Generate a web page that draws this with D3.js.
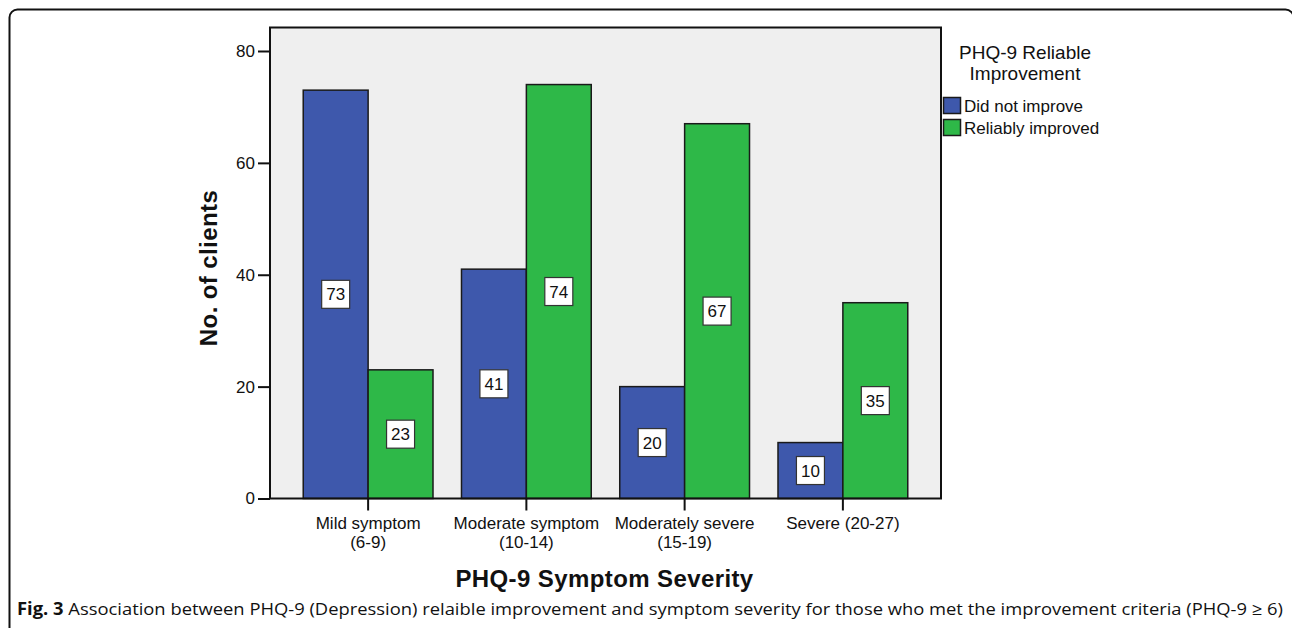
<!DOCTYPE html>
<html>
<head>
<meta charset="utf-8">
<script src="https://cdn.jsdelivr.net/npm/d3@7"></script>
<style>
  body { margin: 0; background: #fff; }
  svg { display: block; }
  text { font-family: Arial, "Liberation Sans", sans-serif; fill: #111; }
</style>
</head>
<body>
<div id="vis"></div>
<script>
// chart data
const categories = ['Mild', 'Moderate', 'ModSevere', 'Severe'];
const categoryLabels = [
  ['Mild symptom', '(6-9)'],
  ['Moderate symptom', '(10-14)'],
  ['Moderately severe', '(15-19)'],
  ['Severe (20-27)']
];
const seriesNames = ['Did not improve', 'Reliably improved'];
const notImproved = [73, 41, 20, 10];
const improved = [23, 74, 67, 35];
const yTicks = [0, 20, 40, 60, 80];
const legendTitle = ['PHQ-9 Reliable', 'Improvement'];
const colors = ['#3E58AC', '#2EB848'];

const width = 1292;
const height = 628;

let svg = d3.select('#vis').append('svg')
  .attr('width', width)
  .attr('height', height);

// outer figure frame (rounded top corners)
svg.append('rect')
  .attr('x', 9.5).attr('y', 9.5)
  .attr('width', 1284).attr('height', 700)
  .attr('rx', 8)
  .attr('fill', 'none')
  .attr('stroke', '#111')
  .attr('stroke-width', 2);

// plot area
let plot = { left: 270, right: 941, top: 27.5, bottom: 498.5 };

let x = d3.scaleBand()
  .domain(categories)
  .range([plot.left, plot.right])
  .paddingInner(0.18)
  .paddingOuter(0.21);

let xSub = d3.scaleBand()
  .domain(seriesNames)
  .range([0, x.bandwidth()]);

let y = d3.scaleLinear()
  .domain([0, 84.2])
  .range([plot.bottom, plot.top]);

svg.append('rect')
  .attr('x', plot.left).attr('y', plot.top)
  .attr('width', plot.right - plot.left)
  .attr('height', plot.bottom - plot.top)
  .attr('fill', '#efefef');

// build rows for the bars
let rows = [];
categories.forEach((c, i) => {
  rows.push({ cat: c, series: seriesNames[0], value: notImproved[i], color: colors[0] });
  rows.push({ cat: c, series: seriesNames[1], value: improved[i], color: colors[1] });
});

svg.selectAll('.bar')
  .data(rows)
  .enter().append('rect')
  .attr('class', 'bar')
  .attr('x', d => x(d.cat) + xSub(d.series))
  .attr('y', d => y(d.value))
  .attr('width', xSub.bandwidth())
  .attr('height', d => y(0) - y(d.value))
  .attr('fill', d => d.color)
  .attr('stroke', '#1a1a1a')
  .attr('stroke-width', 1.5);

// value labels in white boxes
let lab = svg.selectAll('.vlab')
  .data(rows)
  .enter().append('g')
  .attr('class', 'vlab')
  .attr('transform', d => 'translate(' + (x(d.cat) + xSub(d.series) + xSub.bandwidth() / 2) + ',' + ((y(d.value) + y(0)) / 2) + ')');

lab.append('rect')
  .attr('x', -14).attr('y', -14)
  .attr('width', 28).attr('height', 28)
  .attr('fill', '#fff')
  .attr('stroke', '#333')
  .attr('stroke-width', 1.2);

lab.append('text')
  .attr('text-anchor', 'middle')
  .attr('dy', '0.36em')
  .style('font-size', '17px')
  .text(d => d.value);

// plot frame
svg.append('rect')
  .attr('x', plot.left).attr('y', plot.top)
  .attr('width', plot.right - plot.left)
  .attr('height', plot.bottom - plot.top)
  .attr('fill', 'none')
  .attr('stroke', '#111')
  .attr('stroke-width', 2);

// y axis
let yAxis = d3.axisLeft(y)
  .tickValues(yTicks)
  .tickSize(12)
  .tickPadding(3);

let yg = svg.append('g')
  .attr('transform', 'translate(' + plot.left + ',0)')
  .call(yAxis);
yg.select('.domain').remove();
yg.selectAll('line').attr('stroke', '#111').attr('stroke-width', 2);
yg.selectAll('text')
  .style('font-size', '17px')
  .style('font-family', 'Arial, "Liberation Sans", sans-serif')
  .attr('fill', '#111');

// x axis
let xAxis = d3.axisBottom(x)
  .tickSize(12)
  .tickFormat('');

let xg = svg.append('g')
  .attr('transform', 'translate(0,' + plot.bottom + ')')
  .call(xAxis);
xg.select('.domain').remove();
xg.selectAll('line')
  .attr('stroke', '#111').attr('stroke-width', 2);

// category labels (two lines)
xg.selectAll('.tick').each(function (d, i) {
  let t = d3.select(this).append('text')
    .attr('text-anchor', 'middle')
    .attr('y', 30)
    .style('font-size', '17px')
    .style('font-family', 'Arial, "Liberation Sans", sans-serif')
    .attr('fill', '#111');
  categoryLabels[i].forEach((line, j) => {
    t.append('tspan')
      .attr('x', 0)
      .attr('dy', j === 0 ? 0 : 19)
      .text(line);
  });
});

// axis titles
svg.append('text')
  .attr('x', 604.5)
  .attr('y', 587)
  .attr('text-anchor', 'middle')
  .style('font-size', '24px')
  .style('font-weight', 'bold')
  .style('letter-spacing', '0.4px')
  .text('PHQ-9 Symptom Severity');

svg.append('text')
  .attr('transform', 'translate(217,' + 268 + ') rotate(-90)')
  .attr('text-anchor', 'middle')
  .style('font-size', '24px')
  .style('font-weight', 'bold')
  .style('letter-spacing', '0.4px')
  .text('No. of clients');

// legend
let legend = svg.append('g');
legendTitle.forEach((line, i) => {
  legend.append('text')
    .attr('x', 1025)
    .attr('y', 59 + i * 21)
    .attr('text-anchor', 'middle')
    .style('font-size', '19px')
    .text(line);
});

seriesNames.forEach((name, i) => {
  legend.append('rect')
    .attr('x', 943.5).attr('y', 97.5 + i * 22)
    .attr('width', 17).attr('height', 16)
    .attr('fill', colors[i])
    .attr('stroke', '#1a1a1a')
    .attr('stroke-width', 1.5);
  legend.append('text')
    .attr('x', 964)
    .attr('y', 112 + i * 22)
    .style('font-size', '17px')
    .text(name);
});

// caption
let cap = svg.append('text')
  .attr('x', 17)
  .attr('y', 615)
  .style('font-size', '17px')
  .style('font-family', '"Open Sans", "Noto Sans", sans-serif')
  .attr('fill', '#222');
cap.append('tspan')
  .style('font-weight', 'bold')
  .text('Fig. 3');
cap.append('tspan')
  .text(' Association between PHQ-9 (Depression) relaible improvement and symptom severity for those who met the improvement criteria (PHQ-9 \u2265 6)');
cap.attr('textLength', 1266).attr('lengthAdjust', 'spacingAndGlyphs');
</script>
</body>
</html>
